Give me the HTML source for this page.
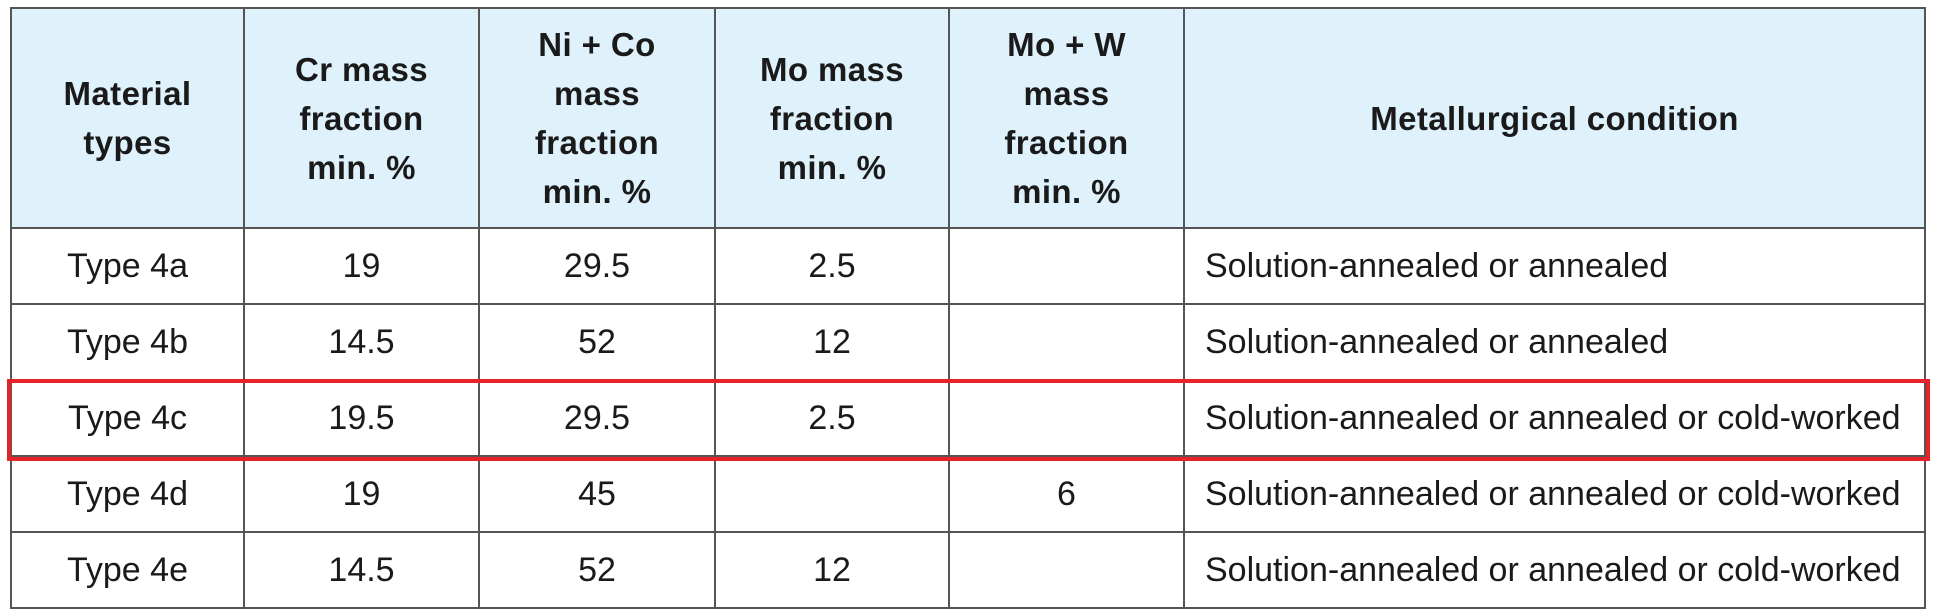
<!DOCTYPE html>
<html><head><meta charset="utf-8"><style>
html,body{margin:0;padding:0;background:#fff;width:1937px;height:613px;overflow:hidden}
table{position:absolute;left:10px;top:7px;border-collapse:collapse;font-family:"Liberation Sans",Arial,sans-serif;color:#1a1a1a;table-layout:fixed;width:1914px}
td,th{border:2px solid #555;padding:0;text-align:center;white-space:nowrap}
th{background:#dff1fb;font-weight:bold;line-height:49px;height:218px;font-size:33px;letter-spacing:0.4px}
td{height:74px;font-size:34px;letter-spacing:0}
td.l{text-align:left;padding-left:20px}
#red{position:absolute;left:7px;top:379px;width:1915px;height:74px;border:4px solid #e8222a}
</style></head><body>
<table>
<colgroup><col style="width:233px"><col style="width:235px"><col style="width:236px"><col style="width:234px"><col style="width:235px"><col style="width:741px"></colgroup>
<tr><th>Material<br>types</th><th>Cr mass<br>fraction<br>min. %</th><th>Ni + Co<br>mass<br>fraction<br>min. %</th><th>Mo mass<br>fraction<br>min. %</th><th>Mo + W<br>mass<br>fraction<br>min. %</th><th>Metallurgical condition</th></tr>
<tr><td>Type 4a</td><td>19</td><td>29.5</td><td>2.5</td><td></td><td class="l">Solution-annealed or annealed</td></tr>
<tr><td>Type 4b</td><td>14.5</td><td>52</td><td>12</td><td></td><td class="l">Solution-annealed or annealed</td></tr>
<tr><td>Type 4c</td><td>19.5</td><td>29.5</td><td>2.5</td><td></td><td class="l">Solution-annealed or annealed or cold-worked</td></tr>
<tr><td>Type 4d</td><td>19</td><td>45</td><td></td><td>6</td><td class="l">Solution-annealed or annealed or cold-worked</td></tr>
<tr><td>Type 4e</td><td>14.5</td><td>52</td><td>12</td><td></td><td class="l">Solution-annealed or annealed or cold-worked</td></tr>
</table>
<div id="red"></div>
</body></html>
